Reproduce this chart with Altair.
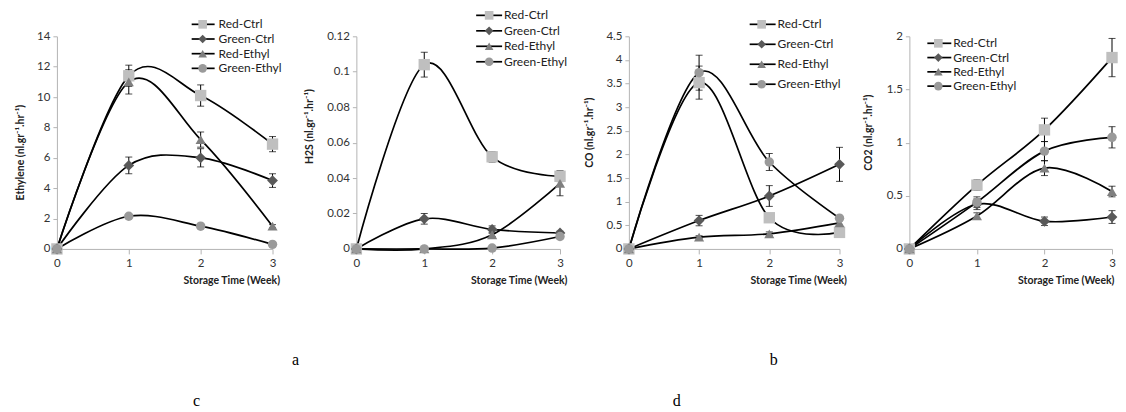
import altair as alt
import pandas as pd

weeks = [0, 1, 2, 3]
series = ["Red-Ctrl", "Green-Ctrl", "Red-Ethyl", "Green-Ethyl"]
shapes = ["square", "diamond", "triangle-up", "circle"]
fills = ["#BFBFBF", "#595959", "#7F7F7F", "#9A9A9A"]
sizes_pt = [130, 90, 120, 110]

# Ethylene
eth_vals = {
    "Red-Ctrl": [0, 11.4, 10.1, 6.9],
    "Green-Ctrl": [0, 5.5, 6.0, 4.5],
    "Red-Ethyl": [0, 11.0, 7.2, 1.5],
    "Green-Ethyl": [0, 2.15, 1.5, 0.3],
}
eth_errs = {
    "Red-Ctrl": [0, 0.7, 0.7, 0.5],
    "Green-Ctrl": [0, 0.55, 0.6, 0.45],
    "Red-Ethyl": [0, 0.8, 0.5, 0.1],
    "Green-Ethyl": [0, 0.1, 0.1, 0.05],
}
# H2S
h2s_vals = {
    "Red-Ctrl": [0, 0.104, 0.052, 0.041],
    "Green-Ctrl": [0, 0.017, 0.011, 0.009],
    "Red-Ethyl": [0, 0.0, 0.008, 0.037],
    "Green-Ethyl": [0, 0.0, 0.0005, 0.007],
}
h2s_errs = {
    "Red-Ctrl": [0, 0.007, 0.003, 0.003],
    "Green-Ctrl": [0, 0.003, 0.002, 0.001],
    "Red-Ethyl": [0, 0.0, 0.001, 0.007],
    "Green-Ethyl": [0, 0.0, 0.0003, 0.001],
}
# CO
co_vals = {
    "Red-Ctrl": [0, 3.52, 0.66, 0.35],
    "Green-Ctrl": [0, 0.6, 1.12, 1.79],
    "Red-Ethyl": [0, 0.25, 0.32, 0.55],
    "Green-Ethyl": [0, 3.73, 1.84, 0.65],
}
co_errs = {
    "Red-Ctrl": [0, 0.35, 0.05, 0.05],
    "Green-Ctrl": [0, 0.11, 0.22, 0.36],
    "Red-Ethyl": [0, 0.03, 0.04, 0.05],
    "Green-Ethyl": [0, 0.37, 0.18, 0.05],
}
# CO2
co2_vals = {
    "Red-Ctrl": [0, 0.60, 1.12, 1.80],
    "Green-Ctrl": [0, 0.42, 0.26, 0.30],
    "Red-Ethyl": [0, 0.31, 0.76, 0.54],
    "Green-Ethyl": [0, 0.44, 0.92, 1.05],
}
co2_errs = {
    "Red-Ctrl": [0, 0.05, 0.11, 0.18],
    "Green-Ctrl": [0, 0.05, 0.04, 0.06],
    "Red-Ethyl": [0, 0.03, 0.07, 0.05],
    "Green-Ethyl": [0, 0.05, 0.09, 0.10],
}

eth_ticks = [0, 2, 4, 6, 8, 10, 12, 14]
h2s_ticks = [0, 0.02, 0.04, 0.06, 0.08, 0.1, 0.12]
co_ticks = [0, 0.5, 1, 1.5, 2, 2.5, 3, 3.5, 4, 4.5]
co2_ticks = [0, 0.5, 1, 1.5, 2]

y_titles = [
    "Ethylene (nl.gr\u207b\u00b9.hr\u207b\u00b9)",
    "H2S (nl.gr\u207b\u00b9.hr\u207b\u00b9)",
    "CO (nl.gr\u207b\u00b9.hr\u207b\u00b9)",
    "CO2 (nl.gr\u207b\u00b9.hr\u207b\u00b9)",
]
x_title = "Storage Time (Week)"
panel_letters = ["a", "b", "c", "d"]

FONT = "Lato"
AXIS_COLOR = "#B4B4B4"
HEIGHT = 213


def long_df(vals, errs):
    rows = []
    for s in series:
        for w, v, e in zip(weeks, vals[s], errs[s]):
            rows.append({"week": w, "series": s, "value": v, "err": e,
                         "lo": v - e, "hi": v + e})
    return pd.DataFrame(rows)


def panel(vals, errs, yticks, ytitle, width, xr, ytx, yty,
          leg_y0, leg_dy, leg_line, leg_mark, leg_text, letters=(), xt_off=7):
    df = long_df(vals, errs)
    ymax = yticks[-1]
    xs = alt.Scale(domain=[0, 3], range=[0, xr], nice=False, zero=False)
    ys = alt.Scale(domain=[0, ymax], nice=False)
    x_axis = alt.Axis(values=weeks, labelExpr="'' + datum.value", tickSize=5,
                      tickColor=AXIS_COLOR, domainColor=AXIS_COLOR, grid=False,
                      labelFont=FONT, labelFontSize=11.5, labelColor="#333333",
                      labelPadding=4, labelOverlap=False, labelFlush=False,
                      title=x_title, titleFont=FONT, titleFontSize=10.5,
                      titleFontWeight="bold", titleColor="#222222",
                      titleAlign="right", titleAnchor="end", titleX=xr + xt_off,
                      titleY=35, titleBaseline="alphabetic")
    y_axis = alt.Axis(values=yticks, tickCount=len(yticks),
                      labelExpr="'' + datum.value", tickSize=4,
                      tickColor=AXIS_COLOR, domainColor=AXIS_COLOR, grid=False,
                      labelFont=FONT, labelFontSize=11.5, labelColor="#333333",
                      labelPadding=3, labelOverlap=False, labelFlush=False,
                      title=ytitle, titleFont=FONT, titleFontSize=10.5,
                      titleFontWeight="bold", titleColor="#222222",
                      titleAngle=270, titleAlign="center", titleBaseline="middle",
                      titleX=ytx, titleY=yty)
    shape_scale = alt.Scale(domain=series, range=shapes)
    color_scale = alt.Scale(domain=series, range=fills)
    size_scale = alt.Scale(domain=series, range=sizes_pt)

    base = alt.Chart(df)
    lines = base.mark_line(interpolate="cardinal", color="black", strokeWidth=1.7).encode(
        x=alt.X("week:Q", scale=xs, axis=x_axis),
        y=alt.Y("value:Q", scale=ys, axis=y_axis),
        detail="series:N",
    )
    eb = base.transform_filter("datum.err > 0")
    rules = eb.mark_rule(color="black", strokeWidth=1).encode(
        x=alt.X("week:Q", axis=x_axis), y=alt.Y("lo:Q", axis=y_axis), y2="hi:Q")
    cap_lo = eb.mark_tick(color="black", thickness=1, size=7, orient="horizontal").encode(
        x=alt.X("week:Q", axis=x_axis), y=alt.Y("lo:Q", axis=y_axis))
    cap_hi = eb.mark_tick(color="black", thickness=1, size=7, orient="horizontal").encode(
        x=alt.X("week:Q", axis=x_axis), y=alt.Y("hi:Q", axis=y_axis))
    pts = base.mark_point(filled=True, opacity=1).encode(
        x=alt.X("week:Q", axis=x_axis), y=alt.Y("value:Q", axis=y_axis),
        shape=alt.Shape("series:N", scale=shape_scale, legend=None),
        color=alt.Color("series:N", scale=color_scale, legend=None),
        size=alt.Size("series:N", scale=size_scale, legend=None),
    )
    main = alt.layer(lines, rules, cap_lo, cap_hi, pts)

    leg_df = pd.DataFrame({"series": series, "row": [0, 1, 2, 3]})
    ly = alt.Y("row:Q", scale=alt.Scale(domain=[0, 3],
                                          range=[leg_y0, leg_y0 + 3 * leg_dy]),
               axis=None)
    lbase = alt.Chart(leg_df)
    l_rule = lbase.mark_rule(color="black", strokeWidth=1.7).encode(
        x=alt.value(leg_line[0]), x2=alt.value(leg_line[1]), y=ly)
    l_pt = lbase.mark_point(filled=True, opacity=1).encode(
        x=alt.value(leg_mark), y=ly,
        shape=alt.Shape("series:N", scale=shape_scale, legend=None),
        color=alt.Color("series:N", scale=color_scale, legend=None),
        size=alt.value(75))
    l_txt = lbase.mark_text(align="left", baseline="middle", font=FONT,
                            fontSize=12, color="#222222").encode(
        x=alt.value(leg_text), y=ly, text="series:N")
    leg_layers = [l_rule, l_pt, l_txt]
    for (letter, lx, lyv) in letters:
        leg_layers.append(
            alt.Chart(pd.DataFrame({"t": [letter]})).mark_text(
                font="Liberation Serif", fontSize=16, color="black",
                align="center", baseline="middle").encode(
                text="t:N", x=alt.value(lx), y=alt.value(lyv)))
    legend = alt.layer(*leg_layers)

    return alt.layer(main, legend).resolve_scale(y="independent").properties(
        width=width, height=HEIGHT)


p1 = panel(eth_vals, eth_errs, eth_ticks, y_titles[0], 231, 216, -36, 116,
           -12, 14.7, (135, 158), 146, 162,
           letters=[(panel_letters[0], 239, 324), (panel_letters[2], 140, 365)])
p2 = panel(h2s_vals, h2s_errs, h2s_ticks, y_titles[1], 204, 204, -47, 90,
           -21, 15.5, (120, 146), 133, 148)
p3 = panel(co_vals, co_errs, co_ticks, y_titles[2], 212, 211, -39, 96,
           -12, 20, (121, 147), 133, 149,
           letters=[(panel_letters[1], 145, 324), (panel_letters[3], 48, 365)])
p4 = panel(co2_vals, co2_errs, co2_ticks, y_titles[3], 203, 203, -41, 96,
           7, 14.3, (18, 42), 29, 44, xt_off=2)

chart = alt.hconcat(p1, p2, p3, p4, spacing=69, bounds="flush",
                    padding={"left": 8, "top": 1, "right": 0, "bottom": 0}).configure_view(
    strokeWidth=0).configure_axis(labelOverlap=False)

chart.save("out.html", embed_options={"renderer": "svg", "actions": False})
